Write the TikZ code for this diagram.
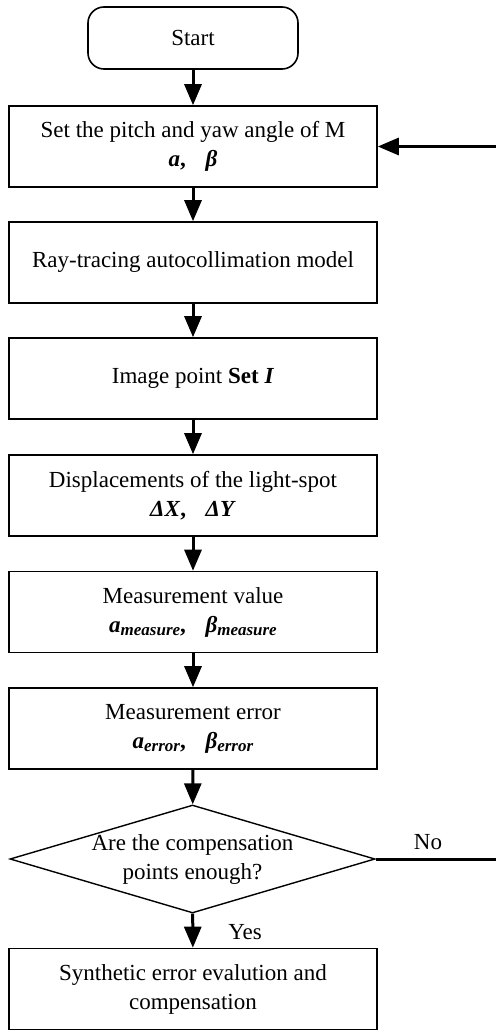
\documentclass[tikz,border=0pt]{standalone}
\usepackage{fontspec}
\setmainfont{Liberation Serif}
\usetikzlibrary{arrows.meta,shapes.geometric}
\newcommand{\bi}[1]{\textbf{\textit{#1}}}
\newcommand{\sbs}[1]{\raisebox{-3.5pt}{\fontsize{17}{17}\selectfont\bi{#1}}}
\newcommand{\sep}{\textbf{,}\hspace{0.85em}}
\begin{document}
\begin{tikzpicture}[x=1pt,y=-1pt,
  txt/.style={font=\fontsize{23}{29}\selectfont, align=center},
  procbox/.style={draw, line width=1.6pt, minimum width=368pt, minimum height=81pt, inner sep=0pt, txt},
  termbox/.style={draw, line width=1.6pt, rounded corners=16pt, minimum width=210pt, minimum height=62pt, inner sep=0pt, txt},
  decbox/.style={draw, diamond, line width=1.4pt, minimum width=365pt, minimum height=108pt, inner sep=0pt},
  arr/.style={line width=3pt, -{Triangle[length=21pt,width=17pt]}},
  lbl/.style={txt, inner sep=0pt}]
\useasboundingbox (0,0) rectangle (495,1032);
\node[termbox] (start) at (193,38) {Start};
\node[procbox] (b1) at (193,146.5) {Set the pitch and yaw angle of M\\\bi{a}\sep\bi{β}};
\node[procbox] (b2) at (193,262.5) {Ray-tracing autocollimation model};
\node[procbox] (b3) at (193,378.5) {Image point \textbf{Set} \bi{I}};
\node[procbox] (b4) at (193,495.5) {Displacements of the light-spot\\\bi{ΔX}\sep\bi{ΔY}};
\node[procbox] (b5) at (193,612) {Measurement value\\\bi{a}\sbs{measure}\sep\bi{β}\sbs{measure}};
\node[procbox] (b6) at (193,728.5) {Measurement error\\\bi{a}\sbs{error}\sep\bi{β}\sbs{error}};
\node[decbox] (dec) at (192.5,859) {};
\node[lbl] (dectext) at (dec.center) {Are the compensation\\points enough?};
\node[procbox] (fin) at (193,989) {Synthetic error evalution and\\compensation};
\node[lbl] (no) at (428,842) {No};
\node[lbl] (yes) at (245,932) {Yes};
\coordinate (rc) at (498,0);
\draw[arr] (start) -- (b1);
\draw[arr] (b1) -- (b2);
\draw[arr] (b2) -- (b3);
\draw[arr] (b3) -- (b4);
\draw[arr] (b4) -- (b5);
\draw[arr] (b5) -- (b6);
\draw[arr] (b6) -- (dec);
\draw[arr] (dec) -- (fin);
\draw[arr] (dec.east) -- (dec.east -| rc) |- (b1.east);
\end{tikzpicture}
\end{document}
